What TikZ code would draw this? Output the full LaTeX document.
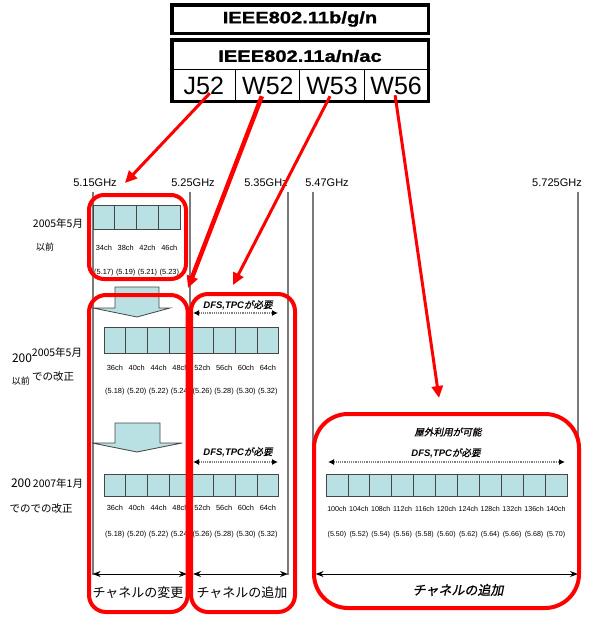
\documentclass[tikz,border=0pt]{standalone}
\usepackage{fontspec}
\setmainfont{Liberation Sans}
\newfontfamily\jpfont{Noto Sans CJK JP}
\newfontfamily\jpsl{Noto Sans CJK JP}[FakeSlant=0.2,FakeBold=1]
\newfontfamily\hdrfont{Liberation Sans}[FakeStretch=1.22,FakeBold=1.2]
\usetikzlibrary{arrows.meta,positioning}
\definecolor{chanblue}{HTML}{B9E0E2}
\definecolor{markred}{HTML}{FF0000}
\definecolor{gridgray}{HTML}{7A7A7A}
\newcommand{\dfsnote}{{\bfseries\itshape DFS,TPC}{\jpsl が必要}}
\tikzset{
    every node/.style={inner sep=0pt,outer sep=0pt},
    hdrbox/.style={draw,line width=3.5pt,fill=white,minimum width=256.5pt,font=\hdrfont\bfseries\fontsize{16.5}{18}\selectfont},
    hdrtext/.style={font=\hdrfont\bfseries\fontsize{16.5}{18}\selectfont},
    bandcell/.style={draw,line width=1pt,minimum width=64.1pt,minimum height=31.25pt,font=\fontsize{25}{26}\selectfont},
    freq/.style={font=\fontsize{11}{12}\selectfont},
    gridline/.style={draw=gridgray,line width=1.2pt},
    chan/.style={draw=gray!55!black,fill=chanblue,line width=0.8pt},
    chlab/.style={font=\fontsize{7.4}{8}\selectfont},
    period/.style={font=\jpfont\fontsize{10.5}{12}\selectfont},
    downarrow/.style={draw=gray!55!black,fill=chanblue,line width=0.8pt},
    dfs/.style={font=\fontsize{9.5}{11}\selectfont},
    dotarrow/.style={draw=gray,densely dotted,line width=1.2pt,{Latex[length=6pt,width=6pt,color=black]}-{Latex[length=6pt,width=6pt,color=black]}},
    redbox/.style={draw=markred,line width=4pt},
    bandarrow/.style={draw=markred,line width=3pt,-{Triangle[length=12pt,width=11pt]}},
    dimarrow/.style={draw,line width=1pt,{Stealth[length=8pt,width=6pt]}-{Stealth[length=8pt,width=6pt]}},
    jplab/.style={font=\jpfont\fontsize{13}{14}\selectfont}
}
\begin{document}
\begin{tikzpicture}[x=1pt,y=-1pt]
\useasboundingbox (0,0) rectangle (597,629);
% bands
\node[hdrbox,minimum height=28.5pt] (bgn) at (300,19) {IEEE802.11b/g/n};
\node[hdrbox,minimum height=61.5pt] (anacbox) at (300,70.5) {};
\node[hdrtext] (anac) at (300,56) {IEEE802.11a/n/ac};
\foreach \i/\band in {0/J52,1/W52,2/W53,3/W56}
    \node[bandcell] (\band) at (203.8+\i*64.1,85.6) {\band};

\foreach \k/\f/\x in {1/5.15/95,2/5.25/193,3/5.35/266,4/5.47/327,5/5.725/557}
    \node[freq] (f\k) at (\x,183) {\f GHz};
\foreach \x in {93,190,288,313,578}
    \draw[gridline] (\x,192) -- (\x,575);

% left side
\node[period] (p1a) at (58,223) {2005年5月};
\node[period,font=\jpfont\fontsize{9}{10}\selectfont] (p1b) at (45,247) {以前};
\node[period,font=\jpfont\fontsize{12}{13}\selectfont] (p2x) at (22,358) {200};
\node[period] (p2a) at (57,352) {2005年5月};
\node[period] (p2b) at (53,377) {での改正};
\node[period,font=\jpfont\fontsize{9}{10}\selectfont] (p2c) at (21,381) {以前};
\node[period,font=\jpfont\fontsize{12}{13}\selectfont] (p3x) at (21,483) {200};
\node[period] (p3a) at (58,483) {2007年1月};
\node[period] (p3b) at (41,509) {でのでの改正};

% 2005/5 before
\foreach \i/\ch/\fq in {0/34/5.17,1/38/5.19,2/42/5.21,3/46/5.23}{
    \node[chan,minimum width=21.8pt,minimum height=24pt] (r1c\i) at (103.9+\i*21.8,217) {};
    \node[chlab] (r1n\i) at (103.9+\i*21.8,248) {\ch ch};
    \node[chlab] (r1f\i) at (103.9+\i*21.8,273) {(\fq)};
}

% 2005/5 revision
\draw[downarrow] (115,287) -- (159,287) -- (159,308) -- (170,308) -- (137,317) -- (93,308) -- (115,308) -- cycle;
\node[dfs] (dfs2) at (238,305) {\dfsnote};
\coordinate (d2l) at (193,313);
\coordinate (d2r) at (278,313);
\draw[dotarrow] (d2l) -- (d2r);
\foreach \i/\ch/\fq in {0/36/5.18,1/40/5.20,2/44/5.22,3/48/5.24,4/52/5.26,5/56/5.28,6/60/5.30,7/64/5.32}{
    \node[chan,minimum width=21.85pt,minimum height=26pt] (r2c\i) at (114.9+\i*21.85,340) {};
    \node[chlab] (r2n\i) at (114.9+\i*21.85,368) {\ch ch};
    \node[chlab] (r2f\i) at (114.9+\i*21.85,392) {(\fq)};
}

% 2007/1 revision
\draw[downarrow] (115,423) -- (160,423) -- (160,443) -- (182,443) -- (137,452) -- (92,443) -- (115,443) -- cycle;
\node[dfs] (dfs3) at (238,452) {\dfsnote};
\coordinate (d3l) at (193,462);
\coordinate (d3r) at (278,462);
\draw[dotarrow] (d3l) -- (d3r);
\foreach \i/\ch/\fq in {0/36/5.18,1/40/5.20,2/44/5.22,3/48/5.24,4/52/5.26,5/56/5.28,6/60/5.30,7/64/5.32}{
    \node[chan,minimum width=21.85pt,minimum height=22pt] (r3c\i) at (114.9+\i*21.85,485) {};
    \node[chlab] (r3n\i) at (114.9+\i*21.85,508) {\ch ch};
    \node[chlab] (r3f\i) at (114.9+\i*21.85,535) {(\fq)};
}

% W56
\node[dfs,font=\jpsl\fontsize{9.6}{11}\selectfont] (outdoor) at (448,432) {屋外利用が可能};
\node[dfs] (dfs4) at (446,453) {\dfsnote};
\coordinate (d4l) at (328,462);
\coordinate (d4r) at (565,462);
\draw[dotarrow] (d4l) -- (d4r);
\foreach \i/\ch/\fq in {0/100/5.50,1/104/5.52,2/108/5.54,3/112/5.56,4/116/5.58,5/120/5.60,6/124/5.62,7/128/5.64,8/132/5.66,9/136/5.68,10/140/5.70}{
    \node[chan,minimum width=21.9pt,minimum height=22pt] (r4c\i) at (336.95+\i*21.9,485) {};
    \node[chlab,font=\fontsize{7.1}{8}\selectfont] (r4n\i) at (336.95+\i*21.9,509) {\ch ch};
    \node[chlab,font=\fontsize{7.1}{8}\selectfont] (r4f\i) at (336.95+\i*21.9,535) {(\fq)};
}

% bottom
\coordinate (m1l) at (92.6,574);
\coordinate (m1r) at (187,574);
\coordinate (m2l) at (193,574);
\coordinate (m2r) at (288,574);
\coordinate (m3l) at (315.6,574);
\coordinate (m3r) at (578,574);
\draw[dimarrow] (m1l) -- (m1r);
\draw[dimarrow] (m2l) -- (m2r);
\draw[dimarrow] (m3l) -- (m3r);
\node[jplab] (chg) at (138,593) {チャネルの変更};
\node[jplab] (add1) at (242,593) {チャネルの追加};
\node[jplab,font=\jpsl\fontsize{13}{14}\selectfont] (add2) at (458,590) {チャネルの追加};

% red marks
\draw[redbox,rounded corners=15pt] (89,195) rectangle (186,279);
\draw[redbox,rounded corners=17pt] (89,295) rectangle (187.7,612);
\draw[redbox,rounded corners=17pt] (191,294) rectangle (295,612);
\draw[redbox,rounded corners=34pt] (314,414) rectangle (579,608);
\coordinate (t1) at (125,183);
\coordinate (t2) at (188,288);
\coordinate (t3) at (233,285);
\coordinate (t4) at (439,398);
\draw[bandarrow] ([xshift=6pt,yshift=8pt]J52.south) -- (t1);
\draw[bandarrow,line width=4.5pt] ([xshift=-6pt,yshift=5pt]W52.south) -- (t2);
\draw[bandarrow] ([xshift=-2pt,yshift=5pt]W53.south) -- (t3);
\draw[bandarrow] ([xshift=-1pt,yshift=6pt]W56.south) -- (t4);
\end{tikzpicture}
\end{document}
